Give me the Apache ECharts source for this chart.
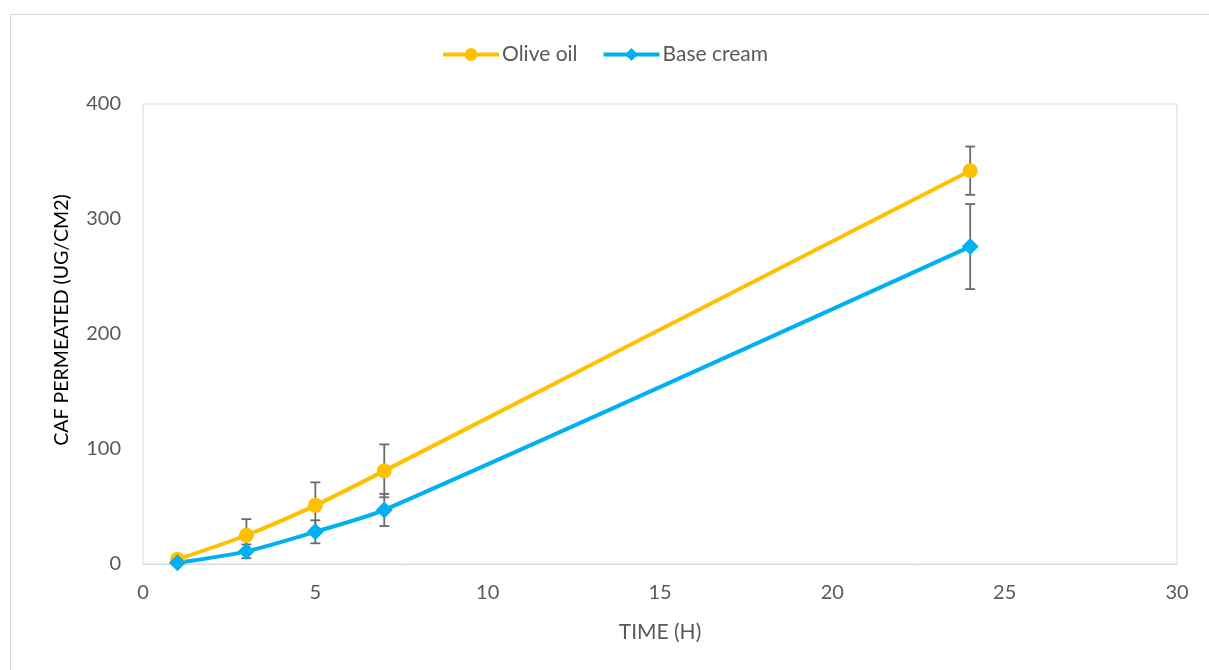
<!DOCTYPE html>
<html>
<head>
<meta charset="utf-8">
<script src="https://cdn.jsdelivr.net/npm/echarts@6/dist/echarts.min.js"></script>
<style>
  html, body { margin: 0; padding: 0; background: #fff; }
  #chart { width: 1209px; height: 670px; }
</style>
</head>
<body>
<div id="chart"></div>
<script>
// time points (h)
var hours = [1, 3, 5, 7, 24]
// olive oil: mean and error (ug/cm2)
var oliveOil = [4, 25, 51, 81, 342]
var oliveErr = [2, 14, 20, 23, 21]
// base cream
var baseCream = [1, 11, 28, 47, 276]
var baseErr = [1, 6, 10, 14, 37]

var xTicks = [0, 5, 10, 15, 20, 25, 30]
var yTicks = [0, 100, 200, 300, 400]

var FONT = 'Lato'
var TXT = '#595959'

function pairs(ys) {
    return hours.map(function (h, i) { return [h, ys[i]] })
}
function errRows(ys, errs) {
    return hours.map(function (h, i) { return [h, ys[i] - errs[i], ys[i] + errs[i]] })
}

// error bar drawn as custom series
function errorBar(name, rows) {
    return {
        type: 'custom',
        name: name + ' err',
        data: rows,
        z: 1,
        silent: true,
        renderItem: function (params, api) {
            var lo = api.coord([api.value(0), api.value(1)])
            var hi = api.coord([api.value(0), api.value(2)])
            var w = 5
            var style = { stroke: '#6b6b6b', lineWidth: 1.8 }
            return {
                type: 'group',
                children: [
                    { type: 'line', shape: { x1: hi[0], y1: hi[1], x2: lo[0], y2: lo[1] }, style: style },
                    { type: 'line', shape: { x1: hi[0] - w, y1: hi[1], x2: hi[0] + w, y2: hi[1] }, style: style },
                    { type: 'line', shape: { x1: lo[0] - w, y1: lo[1], x2: lo[0] + w, y2: lo[1] }, style: style }
                ]
            }
        }
    }
}

var chart = echarts.init(document.getElementById('chart'))
chart.setOption({
    animation: false,
    color: ['#FFC000', '#00B0F0'],
    graphic: [{
        type: 'rect',
        shape: { x: 10.5, y: 14.5, width: 1210, height: 670 },
        style: { fill: 'none', stroke: '#d9d9d9', lineWidth: 1 },
        silent: true
    }],
    legend: {
        top: 39,
        left: 'center',
        itemWidth: 56,
        itemHeight: 16,
        itemGap: 24,
        data: ['Olive oil', 'Base cream'],
        lineStyle: { width: 4 },
        textStyle: { fontFamily: FONT, fontSize: 21, color: TXT, padding: [0, 0, 0, -2] }
    },
    grid: {
        left: 143, right: 32, top: 104, bottom: 106,
        show: true, borderColor: '#d9d9d9', borderWidth: 1
    },
    xAxis: {
        type: 'value',
        min: xTicks[0], max: xTicks[xTicks.length - 1], interval: 5,
        name: 'TIME (H)', nameLocation: 'middle', nameGap: 58,
        nameTextStyle: { fontFamily: FONT, fontSize: 21, color: TXT },
        axisLine: { show: true, lineStyle: { color: '#d9d9d9', width: 1 } },
        axisTick: { show: false },
        splitLine: { show: false },
        axisLabel: { margin: 19, fontFamily: FONT, fontSize: 20, color: TXT }
    },
    yAxis: {
        type: 'value',
        min: yTicks[0], max: yTicks[yTicks.length - 1], interval: 100,
        name: 'CAF PERMEATED (UG/CM2)', nameLocation: 'middle', nameGap: 71,
        nameTextStyle: { fontFamily: FONT, fontSize: 19.5, color: '#000', padding: [0, 0, 0, 28] },
        axisLine: { show: false },
        axisTick: { show: false },
        splitLine: { show: false },
        axisLabel: { margin: 22, fontFamily: FONT, fontSize: 20, color: TXT }
    },
    series: [
        errorBar('Olive oil', errRows(oliveOil, oliveErr)),
        errorBar('Base cream', errRows(baseCream, baseErr)),
        {
            name: 'Olive oil', type: 'line', data: pairs(oliveOil), z: 3,
            smooth: 0.25, symbol: 'circle', symbolSize: 15,
            lineStyle: { width: 4 }
        },
        {
            name: 'Base cream', type: 'line', data: pairs(baseCream), z: 3,
            smooth: 0.25, symbol: 'diamond', symbolSize: 17,
            lineStyle: { width: 4 }
        }
    ]
})
</script>
</body>
</html>
